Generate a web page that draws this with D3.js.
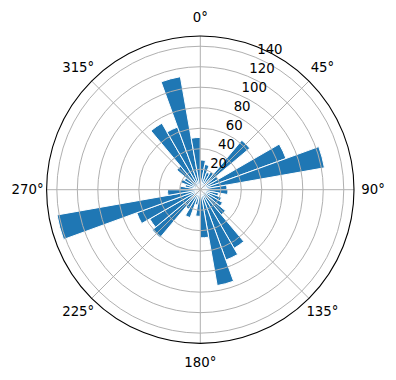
<!DOCTYPE html>
<html>
<head>
<meta charset="utf-8">
<script src="https://cdn.jsdelivr.net/npm/d3@7"></script>
<style>
  body { margin: 0; background: #fff; }
  text { font-family: "DejaVu Sans", sans-serif; }
</style>
</head>
<body>
<div id="chart"></div>
<script>
// bin centres (degrees, clockwise from north) and counts per bin
var directions = [5, 15, 25, 35, 45, 55, 65, 75, 85, 95, 105, 115,
                  125, 135, 145, 155, 165, 175, 185, 195, 205, 215, 225, 235,
                  245, 255, 265, 275, 285, 295, 305, 315, 325, 335, 345, 355];
var counts = [29, 25, 18, 20, 63, 20, 89, 123, 26, 27, 18, 22,
              25, 32, 66, 73, 95, 47, 26, 15, 29, 22, 61, 57,
              66, 142, 32, 20, 15, 20, 18, 30, 75, 65, 112, 51];
var binWidth = 10;

var radialTicks = [20, 40, 60, 80, 100, 120, 140];
var angleTicks = [0, 45, 90, 135, 180, 225, 270, 315];
var angleLabels = ["0°", "45°", "90°", "135°", "180°", "225°", "270°", "315°"];

var width = 396, height = 380;
var cx = 200.3, cy = 189.7, outer = 153.7;

var svg = d3.select("#chart").append("svg")
    .attr("width", width)
    .attr("height", height);

var g = svg.append("g").attr("transform", "translate(" + cx + "," + cy + ")");

// radial scale, linear in r
var r = d3.scaleLinear().domain([0, 150]).range([0, outer]);
var rad = function (deg) { return deg * Math.PI / 180; };

// bars
var arc = d3.arc()
    .innerRadius(0)
    .outerRadius(function (d) { return r(d.value); })
    .startAngle(function (d) { return rad(d.dir - binWidth / 2); })
    .endAngle(function (d) { return rad(d.dir + binWidth / 2); });

var bars = directions.map(function (d, i) { return { dir: d, value: counts[i] }; });

g.selectAll("path.bar")
    .data(bars)
    .enter()
    .append("path")
    .attr("class", "bar")
    .attr("d", arc)
    .attr("fill", "#1f77b4")
    .attr("stroke", "white")
    .attr("stroke-width", 1);

// grid (drawn over the bars, like matplotlib)
g.selectAll("circle.grid")
    .data(radialTicks)
    .enter()
    .append("circle")
    .attr("r", function (d) { return r(d); })
    .attr("fill", "none")
    .attr("stroke", "#b0b0b0")
    .attr("stroke-width", 1);

g.selectAll("line.grid")
    .data(angleTicks)
    .enter()
    .append("line")
    .attr("x1", 0).attr("y1", 0)
    .attr("x2", function (d) { return outer * Math.sin(rad(d)); })
    .attr("y2", function (d) { return -outer * Math.cos(rad(d)); })
    .attr("stroke", "#b0b0b0")
    .attr("stroke-width", 1);

// outer spine
g.append("circle")
    .attr("r", outer)
    .attr("fill", "none")
    .attr("stroke", "black")
    .attr("stroke-width", 1.1);

// angle labels
var labelR = outer + 19;
g.selectAll("text.angle")
    .data(angleTicks)
    .enter()
    .append("text")
    .attr("x", function (d) { return labelR * Math.sin(rad(d)); })
    .attr("y", function (d) { return -labelR * Math.cos(rad(d)); })
    .attr("text-anchor", "middle")
    .attr("dominant-baseline", "central")
    .style("font-size", "13.3px")
    .text(function (d, i) { return angleLabels[i]; });

// radial labels along 22.5°
var labelAngle = rad(22.5);
g.selectAll("text.rlabel")
    .data(radialTicks)
    .enter()
    .append("text")
    .attr("x", function (d) { return r(d) * Math.sin(labelAngle) + 2; })
    .attr("y", function (d) { return -r(d) * Math.cos(labelAngle) - 3; })
    .attr("text-anchor", "start")
    .style("font-size", "13.3px")
    .text(function (d) { return d; });
</script>
</body>
</html>
